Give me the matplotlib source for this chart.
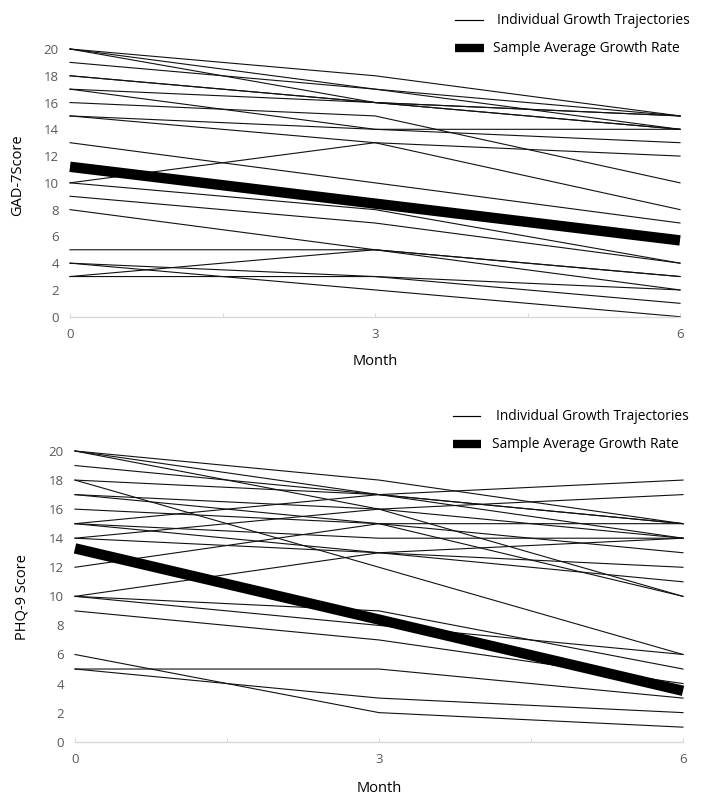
import matplotlib
matplotlib.use('Agg')
import matplotlib.pyplot as plt
from matplotlib.lines import Line2D

plt.rcParams['font.family'] = ['Open Sans', 'DejaVu Sans']

W, H = 704, 806

months = [0, 3, 6]
x_ticks = [0, 1.5, 3, 4.5, 6]
x_ticklabels = ['0', '', '3', '', '6']
y_ticks = list(range(0, 21, 2))

# GAD-7 individual trajectories (month 0, 3, 6)
gad_m0 = [20, 20, 20, 19, 18, 18, 17, 17, 16, 15, 15, 13, 10, 10, 9, 8, 5, 3, 4, 3, 4]
gad_m3 = [18, 17, 16, 17, 16, 16, 16, 14, 15, 14, 13, 10, 13, 8, 7, 5, 5, 5, 3, 3, 2]
gad_m6 = [15, 15, 15, 14, 15, 14, 14, 13, 10, 14, 8, 7, 12, 4, 4, 3, 3, 2, 2, 1, 0]
gad_avg = [11.2, 8.45, 5.7]

# PHQ-9 individual trajectories (month 0, 3, 6)
phq_m0 = [20, 20, 20, 19, 18, 18, 17, 17, 16, 15, 15, 15, 14, 14, 12, 10, 10, 10, 9, 6, 5, 5]
phq_m3 = [18, 16, 17, 17, 17, 12, 16, 15, 15, 17, 14, 13, 16, 13, 15, 13, 8, 9, 7, 2, 5, 3]
phq_m6 = [15, 10, 15, 14, 15, 6, 14, 10, 13, 18, 14, 12, 17, 11, 15, 14, 6, 5, 4, 1, 3, 2]
phq_avg = [13.3, 8.4, 3.5]

legend_labels = ['Individual Growth Trajectories', 'Sample Average Growth Rate']

fig = plt.figure(figsize=(W / 100, H / 100), dpi=100)


def fx(px):
    return px / W


def fy(py):
    return 1 - py / H


def panel(rect, m0, m3, m6, avg, ylabel, ylab_pos, month_y, leg):
    ax = fig.add_axes(rect)
    for a, b, c in zip(m0, m3, m6):
        ax.plot(months, [a, b, c], color='#111111', lw=0.8, clip_on=False, zorder=2)
    ax.plot(months, avg, color='black', lw=7.5, solid_capstyle='butt', clip_on=False, zorder=3)
    ax.set_xlim(0, 6)
    ax.set_ylim(0, 20)
    for s in ['top', 'right', 'left']:
        ax.spines[s].set_visible(False)
    ax.spines['bottom'].set_color('#d9d9d9')
    ax.spines['bottom'].set_linewidth(1.0)
    ax.set_yticks(y_ticks)
    ax.set_xticks(x_ticks)
    ax.set_xticklabels(x_ticklabels)
    ax.tick_params(axis='y', length=0, labelcolor='#595959', labelsize=9.5, pad=8)
    ax.tick_params(axis='x', direction='in', length=3, color='#d9d9d9',
                   labelcolor='#595959', labelsize=9.5, pad=8)
    fig.text(fx(ylab_pos[0]), fy(ylab_pos[1]), ylabel, rotation=90, ha='center', va='center',
             fontsize=10.5, color='black')
    fig.text(fx((rect[0] + rect[2] / 2) * W), fy(month_y), 'Month', ha='center', va='center',
             fontsize=10.5, color='black')
    # legend
    lx0, lx1, ly1, ly2, tx1, tx2 = leg
    fig.add_artist(Line2D([fx(lx0), fx(lx1)], [fy(ly1), fy(ly1)], color='black', lw=0.85))
    fig.add_artist(Line2D([fx(lx0), fx(lx1 + 1)], [fy(ly2), fy(ly2)], color='black', lw=6,
                          solid_capstyle='butt'))
    fig.text(fx(tx1), fy(ly1), legend_labels[0], ha='left', va='center', fontsize=9.9, color='black')
    fig.text(fx(tx2), fy(ly2), legend_labels[1], ha='left', va='center', fontsize=9.9, color='black')
    return ax


panel([70 / W, 1 - 316.7 / H, 610 / W, 267.7 / H], gad_m0, gad_m3, gad_m6, gad_avg,
      'GAD-7Score', (18, 175), 361, (455, 483, 20, 48, 497, 493))
panel([75 / W, 1 - 741.7 / H, 608 / W, 290.7 / H], phq_m0, phq_m3, phq_m6, phq_avg,
      'PHQ-9 Score', (22, 597), 789, (453, 480, 416, 444, 496, 492))

fig.savefig('out.png', dpi=100, facecolor='white')
